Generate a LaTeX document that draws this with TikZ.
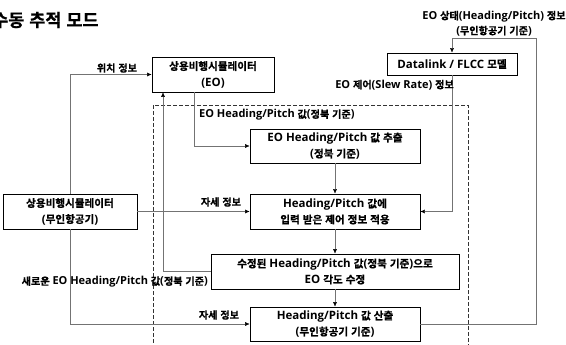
\documentclass[tikz,border=0pt]{standalone}
\usepackage{fontspec}
\setmainfont{Open Sans}
\newfontfamily\krfont{Noto Sans CJK KR}[Scale=0.92, BoldFont={* Bold}, BoldFeatures={FakeBold=0.8}]
\XeTeXinterchartokenstate=1
\newXeTeXintercharclass\krclass
\count255="AC00
\loop
  \XeTeXcharclass\count255=\krclass
  \ifnum\count255<"D7A3 \advance\count255 by 1 \repeat
\XeTeXinterchartoks 0 \krclass = {\krfont}
\XeTeXinterchartoks 4095 \krclass = {\krfont}
\XeTeXinterchartoks \krclass 0 = {\rmfamily}
\XeTeXinterchartoks \krclass 4095 = {\rmfamily}
\usetikzlibrary{arrows.meta}
\definecolor{linegray}{gray}{0.45}
\tikzset{
  box/.style = {draw=black, fill=white, thick, align=center, inner sep=0pt, font=\bfseries\fontsize{11.5}{16}\selectfont},
  link/.style = {draw=linegray, -{Latex[length=4.5pt,width=4pt,color=black]}},
  note/.style = {inner sep=0pt, align=center, font=\bfseries\fontsize{11}{15}\selectfont}
}
\begin{document}
\begin{tikzpicture}[x=1pt, y=-1pt]
\useasboundingbox (0,0) rectangle (566,345);
\node[anchor=west, inner sep=0pt, font=\bfseries\fontsize{19}{22}\selectfont] (title) at (-8, 20) {수동 추적 모드};
\draw[dashed, dash pattern=on 4pt off 2pt, black!80] (153,105) rectangle (468,360);
\node[box, minimum width=122, minimum height=35] (eo) at (213, 74.5) {상용비행시뮬레이터\\(EO)};
\node[box, minimum width=130, minimum height=22] (dl) at (452, 64) {Datalink / FLCC 모델};
\node[box, minimum width=134, minimum height=35] (uav) at (70, 211.5) {상용비행시뮬레이터\\(무인항공기)};
\node[box, minimum width=170, minimum height=34] (extract) at (335, 146) {EO Heading/Pitch 값 추출\\(정북 기준)};
\node[box, minimum width=170, minimum height=35] (apply) at (335, 211.5) {Heading/Pitch 값에\\입력 받은 제어 정보 적용};
\node[box, minimum width=248, minimum height=35] (modify) at (335, 271.5) {수정된 Heading/Pitch 값(정북 기준)으로\\EO 각도 수정};
\node[box, minimum width=170, minimum height=34] (calc) at (335, 324) {Heading/Pitch 값 산출\\(무인항공기 기준)};
\coordinate (turn) at (536, 38);
\draw[link] (uav.north) |- (eo.west);
\draw[link] (uav.east) -- (apply.west);
\draw[link] (uav.south) |- (calc.west);
\draw[link] ([xshift=-19pt]eo.south) |- (extract.west);
\draw[link] (modify.west) -| ([xshift=-50pt]eo.south);
\draw[link] (extract.south) -- (apply.north);
\draw[link] (apply.south) -- (modify.north);
\draw[link] (modify.south) -- (calc.north);
\draw[link] (calc.east) -| (turn) -| (dl.north);
\draw[link] (dl.south) |- (apply.east);
\node[note] (posinfo) at (117, 68) {위치 정보};
\node[note, anchor=west] (eoval) at (199, 115) {EO Heading/Pitch 값(정북 기준)};
\node[note, anchor=east] (slew) at (454, 85) {EO 제어(Slew Rate) 정보};
\node[note] (state) at (494, 23.5) {EO 상태(Heading/Pitch) 정보\\(무인항공기 기준)};
\node[note] (att1) at (221, 202) {자세 정보};
\node[note] (att2) at (219, 315) {자세 정보};
\node[note, anchor=east] (newval) at (208, 282) {새로운 EO Heading/Pitch 값(정북 기준)};
\end{tikzpicture}
\end{document}
